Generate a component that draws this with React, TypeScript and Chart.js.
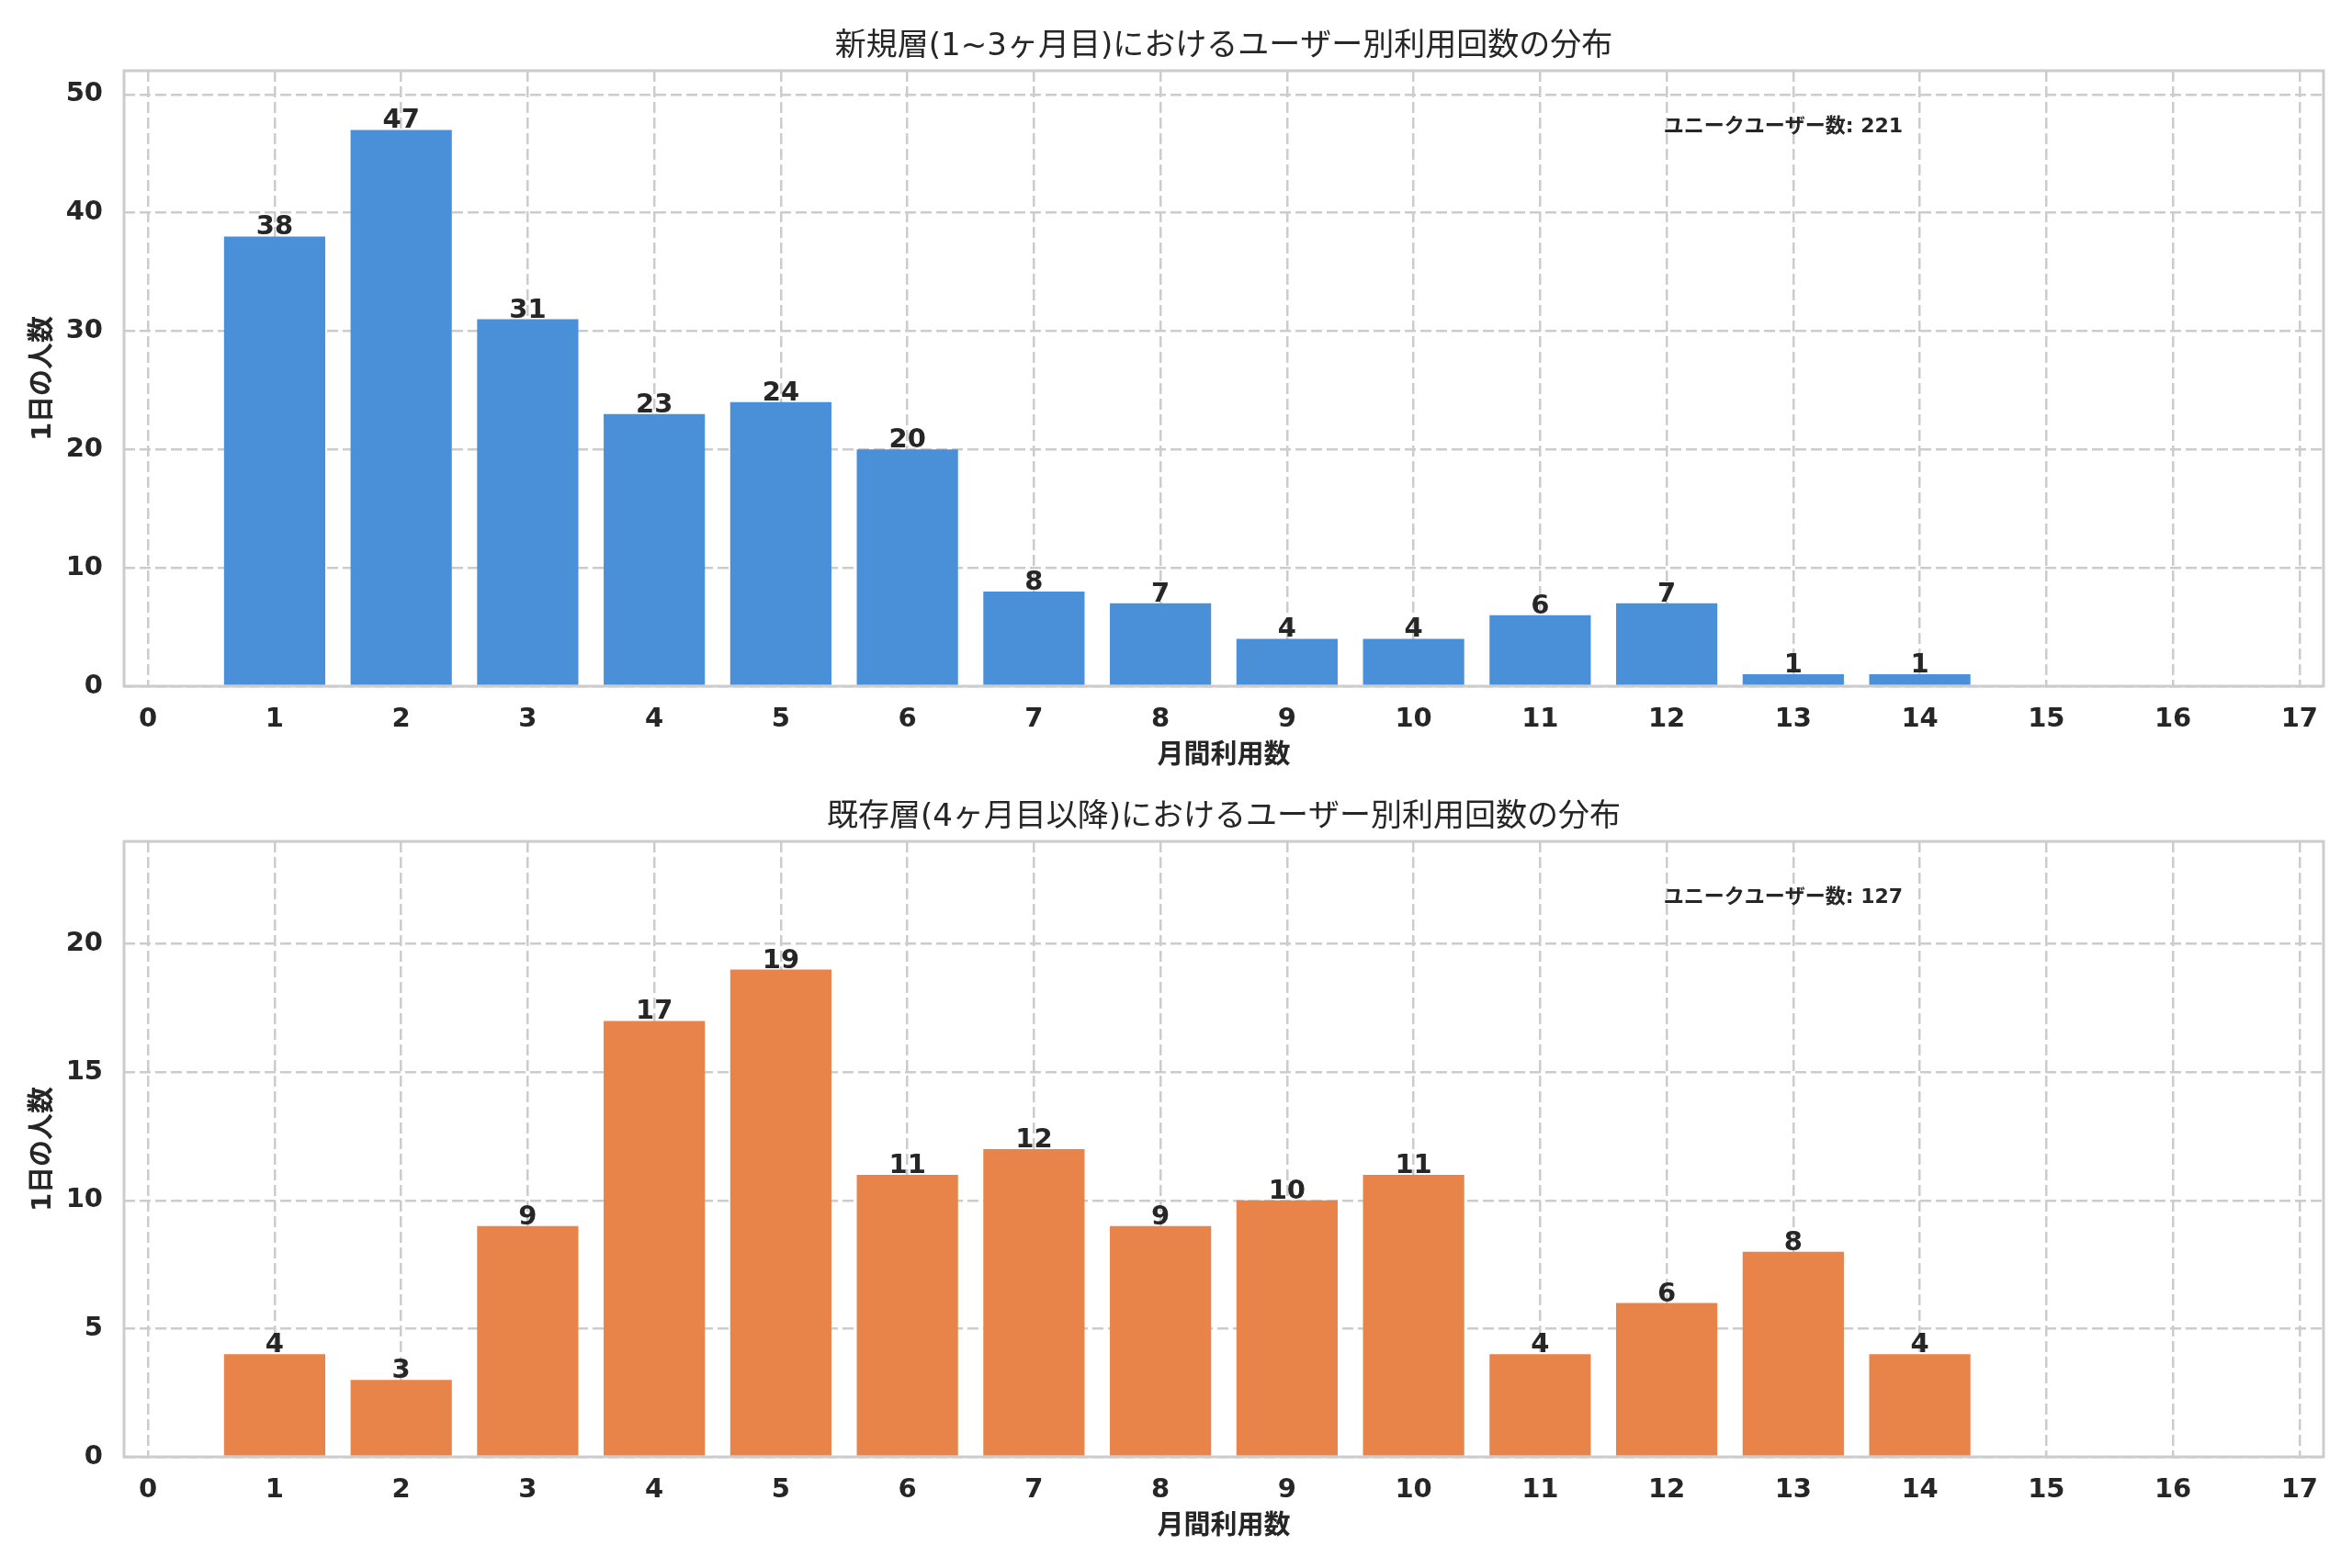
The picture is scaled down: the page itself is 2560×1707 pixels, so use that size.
import React, { useEffect, useRef } from "react";
import { Chart, registerables } from "chart.js";

Chart.register(...registerables);

// ---- data ----
const binValues = [1, 2, 3, 4, 5, 6, 7, 8, 9, 10, 11, 12, 13, 14];
const earlyCounts = [38, 47, 31, 23, 24, 20, 8, 7, 4, 4, 6, 7, 1, 1];
const laterCounts = [4, 3, 9, 17, 19, 11, 12, 9, 10, 11, 4, 6, 8, 4];
const earlyTotal = 221;
const laterTotal = 127;
const xTickMin = 0;
const xTickMax = 17;

const earlyTitle = "新規層(1~3ヶ月目)におけるユーザー別利用回数の分布";
const laterTitle = "既存層(4ヶ月目以降)におけるユーザー別利用回数の分布";
const xAxisLabel = "月間利用数";
const yAxisLabel = "1日の人数";
const noteLabel = "ユニークユーザー数";

// ---- style ----
const FONT = '"DejaVu Sans", "Noto Sans CJK JP", sans-serif';
const TEXT = "#262626";
const GRID = "#cccccc";
const BLUE = "#4a90d9";
const ORANGE = "#e8834a";

const W = 2560;
const PLOT_LEFT = 135;
const PLOT_RIGHT = 2529;
const PLOT_TOP = 77;
const PLOT_BOTTOM = 747;

const decorPlugin = {
  id: "decor",
  afterDatasetsDraw(chart: any, _args: any, opts: any) {
    const { ctx, chartArea: a } = chart;
    ctx.save();
    ctx.setLineDash([]);
    ctx.strokeStyle = GRID;
    ctx.lineWidth = 3;
    ctx.strokeRect(a.left, a.top, a.right - a.left, a.bottom - a.top);

    // bar value labels
    const meta = chart.getDatasetMeta(0);
    const ds = chart.data.datasets[0].data as any[];
    ctx.fillStyle = TEXT;
    ctx.font = `bold 29px ${FONT}`;
    ctx.textAlign = "center";
    ctx.textBaseline = "alphabetic";
    meta.data.forEach((el: any, i: number) => {
      ctx.fillText(String(ds[i].y), el.x, el.y - 2);
    });

    const cx = (a.left + a.right) / 2;
    // title
    ctx.font = `normal 34px ${FONT}`;
    ctx.textBaseline = "middle";
    ctx.fillText(opts.title, cx, 51);

    // x label
    ctx.font = `bold 29px ${FONT}`;
    ctx.fillText(xAxisLabel, cx, 823);

    // y label
    ctx.save();
    ctx.translate(47, (a.top + a.bottom) / 2);
    ctx.rotate(-Math.PI / 2);
    ctx.fillText(yAxisLabel, 0, 0);
    ctx.restore();

    // note
    ctx.font = `bold 22px ${FONT}`;
    ctx.textAlign = "left";
    ctx.fillText(`${noteLabel}: ${opts.total}`, a.left + 0.7 * (a.right - a.left), a.top + 61);
    ctx.restore();
  },
};

function makeConfig(values: number[], color: string, yMax: number, yStep: number, title: string, total: number, height: number): any {
  const tickFont = { family: FONT, size: 29, weight: "bold" as const };
  return {
    type: "bar",
    data: {
      datasets: [
        {
          data: binValues.map((x, i) => ({ x, y: values[i] })),
          backgroundColor: color,
          borderWidth: 0,
          barPercentage: 0.8,
          categoryPercentage: 1.0,
        },
      ],
    },
    options: {
      responsive: false,
      animation: false,
      devicePixelRatio: 1,
      layout: { padding: { top: PLOT_TOP, right: W - PLOT_RIGHT, left: 0, bottom: 0 } },
      plugins: {
        legend: { display: false },
        tooltip: { enabled: false },
        title: { display: false },
        decor: { title, total },
      },
      scales: {
        x: {
          type: "linear",
          min: xTickMin - 0.19,
          max: xTickMax + 0.19,
          offset: false,
          grid: { offset: false, color: GRID, lineWidth: 2.5, drawTicks: false },
          border: { display: false, dash: [12, 5] },
          ticks: {
            stepSize: 1,
            includeBounds: false,
            autoSkip: false,
            maxRotation: 0,
            padding: 19,
            color: TEXT,
            font: tickFont,
          },
          afterFit: (s: any) => {
            s.height = height - PLOT_BOTTOM;
          },
        },
        y: {
          type: "linear",
          min: 0,
          max: yMax,
          grid: { color: GRID, lineWidth: 2.5, drawTicks: false },
          border: { display: false, dash: [12, 5] },
          ticks: {
            stepSize: yStep,
            includeBounds: false,
            padding: 23,
            color: TEXT,
            font: tickFont,
          },
          afterFit: (s: any) => {
            s.width = PLOT_LEFT;
          },
        },
      },
    },
    plugins: [decorPlugin],
  };
}

function Panel(props: { values: number[]; color: string; yMax: number; yStep: number; title: string; total: number; top: number; height: number }) {
  const ref = useRef<HTMLCanvasElement | null>(null);
  useEffect(() => {
    if (!ref.current) return;
    const chart = new Chart(
      ref.current,
      makeConfig(props.values, props.color, props.yMax, props.yStep, props.title, props.total, props.height)
    );
    return () => chart.destroy();
  }, []);
  return (
    <canvas
      ref={ref}
      width={W}
      height={props.height}
      style={{ position: "absolute", left: 0, top: props.top, width: W, height: props.height, display: "block" }}
    />
  );
}

export default function App() {
  return (
    <div style={{ position: "absolute", left: 0, top: 0, width: W, height: 1707, background: "#ffffff", overflow: "hidden" }}>
      <Panel values={earlyCounts} color={BLUE} yMax={52} yStep={10} title={earlyTitle} total={earlyTotal} top={0} height={839} />
      <Panel values={laterCounts} color={ORANGE} yMax={24} yStep={5} title={laterTitle} total={laterTotal} top={839} height={868} />
    </div>
  );
}
